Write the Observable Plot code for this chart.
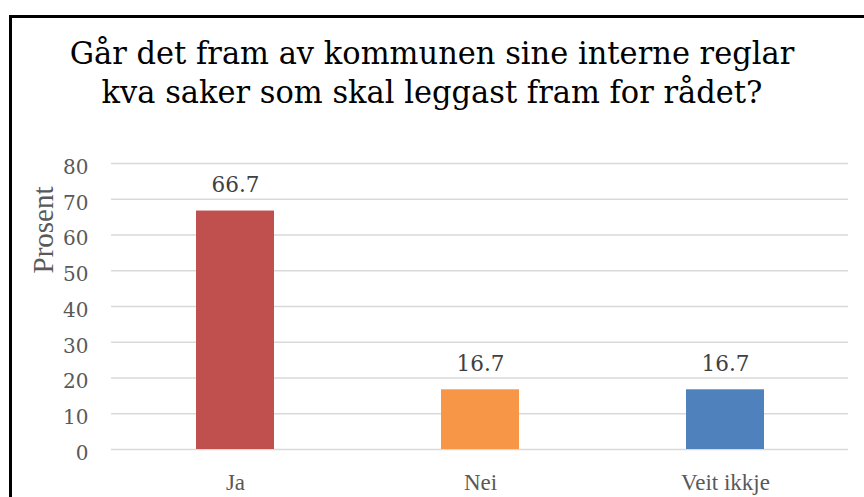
<!DOCTYPE html>
<html>
<head>
<meta charset="utf-8">
<script src="https://cdn.jsdelivr.net/npm/d3@7"></script>
<script src="https://cdn.jsdelivr.net/npm/@observablehq/plot@0.6"></script>
<style>
  html, body { margin: 0; padding: 0; background: #fff; width: 864px; height: 497px; overflow: hidden; }
  #frame { position: absolute; left: 9px; top: 15px; width: 900px; height: 540px; border: 3px solid #000; box-sizing: border-box; }
  #chart { position: absolute; left: 0; top: 0; }
  #title { position: absolute; left: 0; top: 0; width: 864px; height: 130px; pointer-events: none; }
  #title text { font-family: 'DejaVu Serif', serif; font-size: 32px; fill: #000; }
  #chart g[aria-label="y-axis tick label"] { font-size: 20px !important; font-family: 'DejaVu Serif', serif; }
  #chart g[aria-label="x-axis tick label"] { font-size: 23px !important; font-family: 'Liberation Serif', serif; }
</style>
</head>
<body>
<div id="frame"></div>
<div id="chart"></div>
<svg id="title" width="864" height="130">
  <text id="t1" x="432" y="64" text-anchor="middle">Går det fram av kommunen sine interne reglar</text>
  <text id="t2" x="432" y="103" text-anchor="middle">kva saker som skal leggast fram for rådet?</text>
</svg>
<script>
const categories = ["Ja", "Nei", "Veit ikkje"];
const values = [66.7, 16.7, 16.7];
const colors = ["#C0504D", "#F79646", "#4F81BD"];
const yTicks = [0, 10, 20, 30, 40, 50, 60, 70, 80];

const data = categories.map((c, i) => ({category: c, value: values[i], color: colors[i]}));

const chart = Plot.plot({
  width: 864,
  height: 497,
  marginLeft: 111,
  marginRight: 16,
  marginTop: 163,
  marginBottom: 48,
  style: {fontFamily: "'DejaVu Serif', serif", background: "transparent", overflow: "visible"},
  x: {domain: categories, paddingInner: 0.683, paddingOuter: 0.3415, label: null},
  y: {domain: [0, 80], label: null},
  marks: [
    Plot.ruleY(yTicks, {stroke: "#d9d9d9", strokeWidth: 1.5}),
    Plot.barY(data, {x: "category", y: "value", fill: "color"}),
    Plot.text(data, {x: "category", y: "value", text: d => d.value.toFixed(1), dy: -26, fill: "#404040", fontSize: 21.5}),
    Plot.axisY({ticks: yTicks, tickSize: 0, tickPadding: 23, dy: 4, fontSize: 20, color: "#595959", label: null}),
    Plot.axisX({tickSize: 0, tickPadding: 24, fontSize: 23, color: "#595959", label: null}),
    Plot.text(["Prosent"], {frameAnchor: "left", dx: -68, dy: -33, rotate: -90, fontSize: 29, fontFamily: "'Liberation Serif', serif", fill: "#595959"})
  ]
});
document.getElementById("chart").appendChild(chart);

// fit the title lines to the reference's width (~725px for line 1)
const t1 = document.getElementById("t1");
const t2 = document.getElementById("t2");
const w1 = t1.getComputedTextLength();
const s = 725 / w1;
[t1, t2].forEach(t => t.setAttribute("transform", `translate(432,0) scale(${s},1) translate(-432,0)`));
</script>
</body>
</html>
